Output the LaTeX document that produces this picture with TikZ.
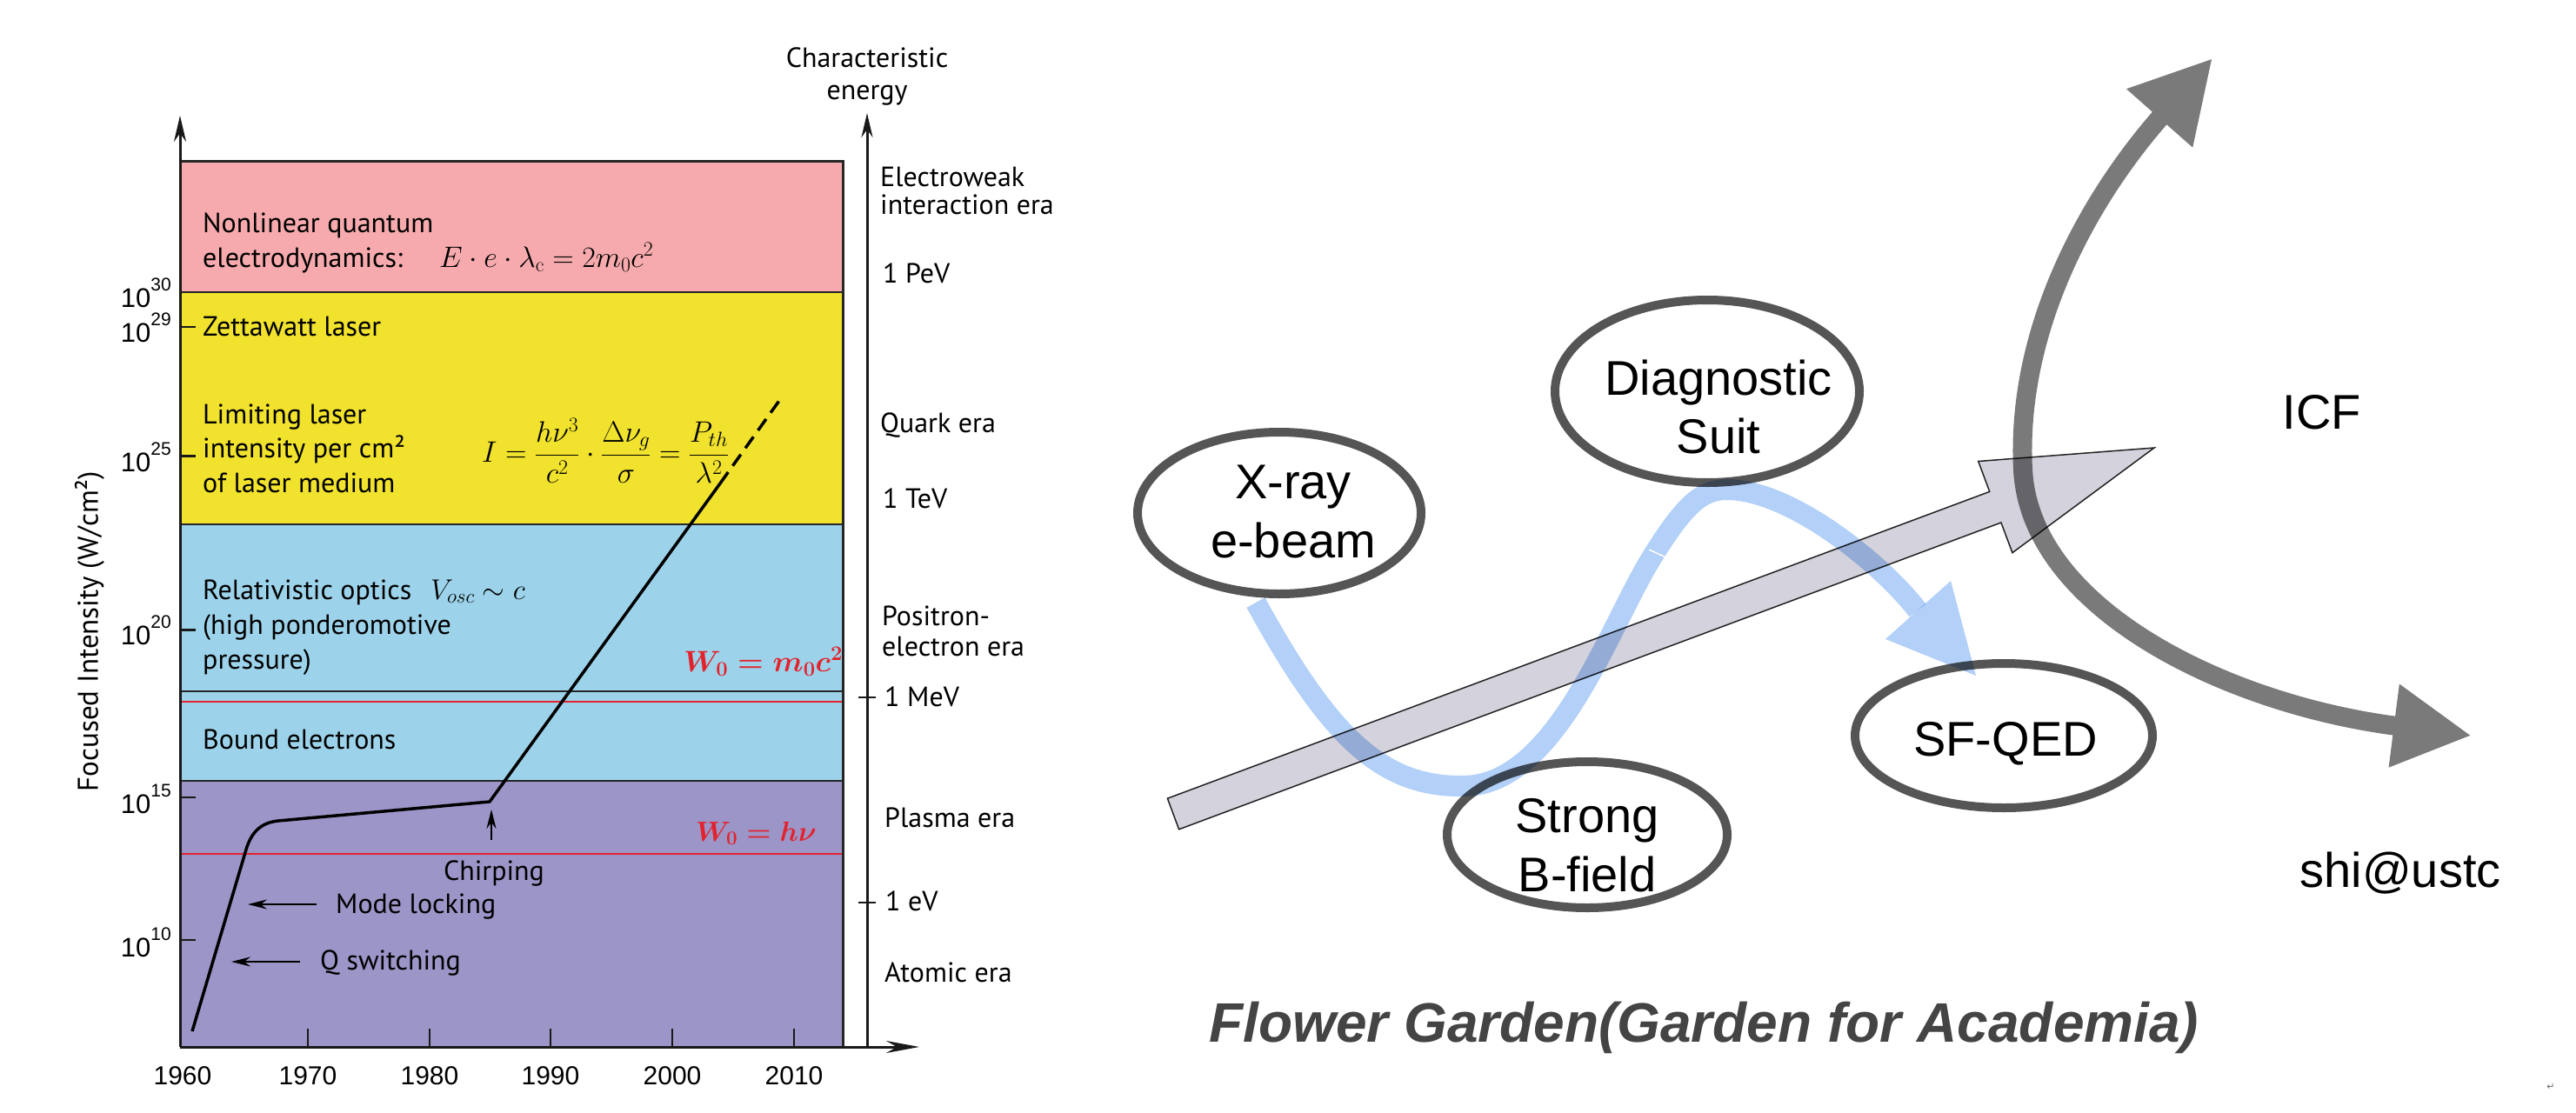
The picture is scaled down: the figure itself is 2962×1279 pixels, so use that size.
\RequirePackage{fix-cm}
\documentclass[tikz,border=0pt]{standalone}
\usepackage{fontspec}
\newfontfamily\ptsans{PT Sans}
\newfontfamily\libsans{Liberation Sans}
\newfontfamily\dejavu{DejaVu Sans}
\usetikzlibrary{arrows.meta,shapes.geometric}
\definecolor{cpink}{RGB}{246,170,173}
\definecolor{cyellow}{RGB}{241,226,46}
\definecolor{cblue}{RGB}{157,211,234}
\definecolor{cpurple}{RGB}{156,149,200}
\definecolor{cred}{RGB}{226,35,45}
\definecolor{ering}{RGB}{85,85,85}
\definecolor{icfgray}{RGB}{122,122,122}
\definecolor{beamfill}{RGB}{212,210,220}
\definecolor{wavecol}{RGB}{178,208,248}
\definecolor{titlegray}{RGB}{68,68,68}
\newcommand{\tenp}[1]{10\raisebox{19pt}{\fontsize{21}{21}\selectfont #1}}
\begin{document}
\begin{tikzpicture}[x=1pt,y=-1pt,
  bline/.style={line width=2.5pt,black!85},
  redline/.style={line width=1.8pt,cred},
  axisline/.style={line width=3pt,black!90},
  tickline/.style={line width=2.2pt,black!90},
  curveline/.style={line width=3.5pt,black},
  lbl/.style={font=\ptsans\fontsize{32}{38}\selectfont,anchor=base west,inner sep=0pt},
  rlbl/.style={font=\ptsans\fontsize{32}{38}\selectfont,anchor=base west,inner sep=0pt},
  ticklbl/.style={font=\libsans\fontsize{31}{37}\selectfont,anchor=base east,inner sep=0pt},
  yearlbl/.style={font=\libsans\fontsize{30}{36}\selectfont,anchor=base,inner sep=0pt},
  mathlbl/.style={anchor=base west,inner sep=0pt},
  redmath/.style={anchor=base west,inner sep=0pt,text=cred,font=\fontsize{34}{40}\selectfont\boldmath},
  ring/.style={ellipse,draw=ering,line width=10pt,inner sep=0pt},
  rtext/.style={font=\libsans\fontsize{56}{56}\selectfont,anchor=base,inner sep=0pt},
  smallarrow/.style={line width=2pt,-{Stealth[length=22pt,width=11pt]}}
]
\useasboundingbox (0,0) rectangle (2962,1279);
\fill[white] (0,0) rectangle (2962,1279);

% ---------------- left panel: bands ----------------
\fill[cpink] (207,185) rectangle (969,336);
\fill[cyellow] (207,336) rectangle (969,603);
\fill[cblue] (207,603) rectangle (969,898);
\fill[cpurple] (207,898) rectangle (969,1204);
\draw[redline] (207,807) -- (971,807);
\draw[redline] (207,982) -- (971,982);
\draw[bline] (207,336) -- (969,336);
\draw[bline] (207,603) -- (969,603);
\draw[bline] (207,795) -- (969,795);
\draw[bline] (207,898) -- (969,898);
\draw[line width=3pt,black!85] (207,185) -- (969,185) -- (969,1204);

% axes
\coordinate (origin) at (207,1204);
\coordinate (ytop) at (207,133);
\coordinate (xend) at (1057,1204);
\coordinate (ebot) at (997,1204);
\coordinate (etop) at (997,130);
\draw[axisline,-{Stealth[length=30pt,width=14pt]}] (origin) -- (ytop);
\draw[axisline,-{Stealth[length=38pt,width=14pt]}] (origin) -- (xend);
\draw[axisline,-{Stealth[length=28pt,width=13pt]}] (ebot) -- (etop);

% y ticks
\foreach \yy in {376,524.5,724.5,917,1081} \draw[tickline] (207,\yy) -- (225,\yy);
% x ticks
\foreach \xx in {354,494,633,773,913} \draw[tickline] (\xx,1183) -- (\xx,1204);
% energy ticks
\draw[tickline] (987,802) -- (1007,802);
\draw[tickline] (987,1038) -- (1007,1038);

% tick labels
\node[ticklbl] (t30) at (197,353.6) {\tenp{30}};
\node[ticklbl] (t29) at (197,393) {\tenp{29}};
\node[ticklbl] (t25) at (197,542) {\tenp{25}};
\node[ticklbl] (t20) at (197,741) {\tenp{20}};
\node[ticklbl] (t15) at (197,935) {\tenp{15}};
\node[ticklbl] (t10) at (197,1100) {\tenp{10}};
\node[yearlbl] (y1960) at (210,1247) {1960};
\node[yearlbl] (y1970) at (354,1247) {1970};
\node[yearlbl] (y1980) at (494,1247) {1980};
\node[yearlbl] (y1990) at (633,1247) {1990};
\node[yearlbl] (y2000) at (773,1247) {2000};
\node[yearlbl] (y2010) at (913,1247) {2010};

\node[font=\ptsans\fontsize{33}{39}\selectfont,rotate=90,inner sep=0pt] (ylab) at (103,726) {Focused Intensity (W/cm²)};

% intensity curve
\coordinate (c0) at (221,1186);
\coordinate (c1) at (283,977);
\coordinate (c2) at (320,944);
\coordinate (c3) at (563,922);
\coordinate (c4) at (828,556);
\coordinate (c5) at (898,458);
\draw[curveline,line join=round] (c0) -- (c1) .. controls (289,957) and (300,946) .. (c2) -- (c3) -- (c4);
\draw[curveline,dash pattern=on 16pt off 9pt] (c4) -- (c5);

% annotation arrows
\coordinate (chA) at (565,966);
\coordinate (chB) at (565,931);
\draw[smallarrow] (chA) -- (chB);
\coordinate (mlA) at (364,1040);
\coordinate (mlB) at (285,1040);
\draw[smallarrow] (mlA) -- (mlB);
\coordinate (qsA) at (345,1106);
\coordinate (qsB) at (266,1106);
\draw[smallarrow] (qsA) -- (qsB);

% band texts
\node[lbl] (n1) at (233,267) {Nonlinear quantum};
\node[lbl] (n2) at (233,307) {electrodynamics:};
\node[mathlbl,font=\fontsize{34}{40}\selectfont] (n3) at (505,307) {$E\cdot e\cdot \lambda_{\mathrm{c}} = 2m_0c^2$};
\node[lbl] (z1) at (233,386) {Zettawatt laser};
\node[lbl] (l1) at (233,487) {Limiting laser};
\node[lbl] (l2) at (233,526) {intensity per cm²};
\node[lbl] (l3) at (233,566) {of laser medium};
\node[anchor=west,inner sep=0pt,font=\fontsize{34}{40}\selectfont] (lf) at (554,518) {$\displaystyle I=\frac{h\nu^3}{c^2}\cdot\frac{\Delta\nu_g}{\sigma}=\frac{P_{th}}{\lambda^2}$};
\node[lbl] (r1) at (233,689) {Relativistic optics};
\node[mathlbl,font=\fontsize{33}{40}\selectfont] (rf) at (495,689) {$V_{osc}\sim c$};
\node[lbl] (r2) at (233,729) {(high ponderomotive};
\node[lbl] (r3) at (233,769) {pressure)};
\node[redmath] (w1) at (786,772) {$W_0=m_0c^2$};
\node[lbl] (b1) at (233,861) {Bound electrons};
\node[redmath,font=\fontsize{32}{40}\selectfont\boldmath] (w2) at (800,967) {$W_0=h\nu$};
\node[lbl,anchor=base] (chirp) at (568,1012) {Chirping};
\node[lbl] (mode) at (386,1050) {Mode locking};
\node[lbl] (qsw) at (368,1115) {Q switching};

% energy axis labels
\node[rlbl,anchor=base] (ce1) at (997,77.5) {Characteristic};
\node[rlbl,anchor=base] (ce2) at (997,114) {energy};
\node[rlbl] (e1) at (1012,214) {Electroweak};
\node[rlbl] (e2) at (1012,246) {interaction era};
\node[rlbl] (e3) at (1015,325) {1 PeV};
\node[rlbl] (e4) at (1012,497.5) {Quark era};
\node[rlbl] (e5) at (1015,584) {1 TeV};
\node[rlbl] (e6) at (1014,719) {Positron-};
\node[rlbl] (e7) at (1014,754) {electron era};
\node[rlbl] (e8) at (1017,812) {1 MeV};
\node[rlbl] (e9) at (1017,951) {Plasma era};
\node[rlbl] (e10) at (1018,1047) {1 eV};
\node[rlbl] (e11) at (1017,1129) {Atomic era};

% ---------------- right panel ----------------
\node[ring,minimum width=326pt,minimum height=186pt] (xray) at (1471,590) {};
\node[ring,minimum width=350pt,minimum height=210pt] (diag) at (1963,450) {};
\node[ring,minimum width=322pt,minimum height=168pt] (strong) at (1825,960) {};
\node[ring,minimum width=342pt,minimum height=166pt] (sfqed) at (2304,846) {};

\node[rtext] (xr1) at (1487,573) {X-ray};
\node[rtext] (xr2) at (1487,641) {e-beam};
\node[rtext] (dg1) at (1976,454) {Diagnostic};
\node[rtext] (dg2) at (1976,521) {Suit};
\node[rtext] (st1) at (1825,957) {Strong};
\node[rtext] (st2) at (1825,1025) {B-field};
\node[rtext] (sf1) at (2306,869) {SF-QED};
\node[rtext] (icf) at (2670,493) {ICF};
\node[rtext] (shi) at (2760,1020) {shi@ustc};

% ICF arrow
\coordinate (icfA) at (2544,67);
\coordinate (icfM) at (2326,540);
\coordinate (icfB) at (2842,846);
\draw[icfgray,line width=22pt,{Triangle[length=92pt,width=95pt]}-{Triangle[length=90pt,width=90pt]}]
  (icfA) .. controls (2400,230) and (2318,380) .. (icfM) .. controls (2334,700) and (2560,810) .. (icfB);

\begin{scope}[blend mode=multiply]
% beam arrow
\draw[fill=beamfill,draw=black!85,line width=1.5pt,line join=miter]
  (1342.4,918.2) -- (2287.7,565.4) -- (2274.7,530.5) -- (2477,515) -- (2313.9,635.7) -- (2300.9,601.0) -- (1355.6,953.8) -- cycle;
% blue wave
\coordinate (wv0) at (1444,693);
\coordinate (wv1) at (1682,904);
\coordinate (wv2) at (1900,640);
\coordinate (wv3) at (1985,563);
\coordinate (wv4) at (2205,702);
\draw[wavecol,line width=24pt]
  (wv0) .. controls (1530,850) and (1590,905) .. (wv1)
  .. controls (1790,904) and (1850,720) .. (wv2)
  .. controls (1935,584) and (1955,563) .. (wv3)
  .. controls (2060,563) and (2165,650) .. (wv4);
\fill[wavecol] (2168,735) -- (2243,668) -- (2272,777) -- cycle;
\end{scope}
\draw[white,line width=1.5pt] (1896,632) -- (1920,643);

\node[font=\libsans\bfseries\itshape\fontsize{64}{64}\selectfont,text=titlegray,anchor=base west,inner sep=0pt] (title) at (1390,1198) {Flower Garden(Garden for Academia)};
\node[font=\dejavu\fontsize{11}{11}\selectfont,text=black!60,inner sep=0pt] (ret) at (2933,1250) {↵};
\end{tikzpicture}
\end{document}
